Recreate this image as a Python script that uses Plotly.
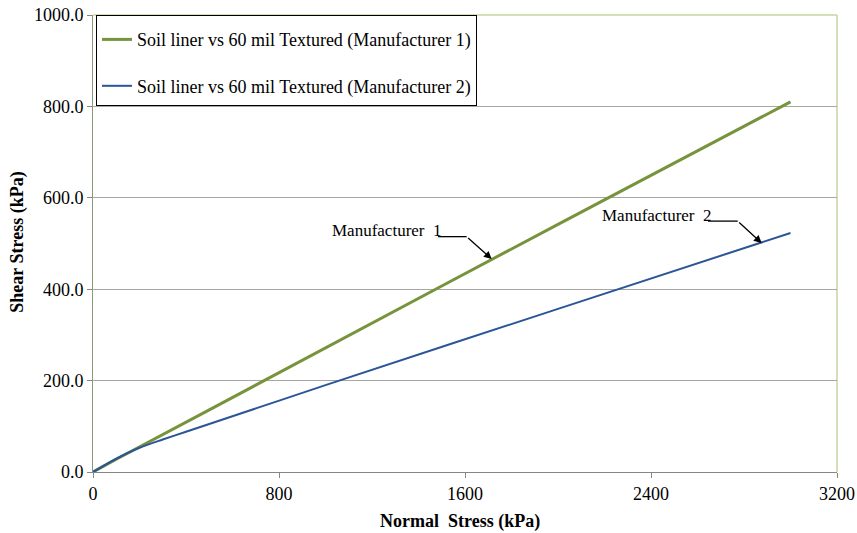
import plotly.graph_objects as go

# Data
m1_sigma = [0, 100, 500, 1000, 1500, 2000, 2500, 3000]
m1_tau = [0, 28, 136, 272, 407, 542, 676, 810]
m2_sigma = [0, 100, 200, 300, 400, 500, 1000, 2000, 3000]
m2_tau = [0, 29, 53, 71, 88, 105, 190, 357, 523]

series_names = ["Soil liner vs 60 mil Textured (Manufacturer 1)",
                "Soil liner vs 60 mil Textured (Manufacturer 2)"]
x_ticks = [0, 800, 1600, 2400, 3200]
y_ticks = [0, 200, 400, 600, 800, 1000]

FONT = "'Liberation Serif', 'Times New Roman', Times, serif"
GREEN = "#77933C"
BLUE = "#2A5597"

fig = go.Figure()
fig.add_trace(go.Scatter(x=m1_sigma, y=m1_tau, mode="lines", name=series_names[0],
                         line=dict(color=GREEN, width=3), legendgroup="a"))
fig.add_trace(go.Scatter(x=m2_sigma, y=m2_tau, mode="lines", name=series_names[1],
                         line=dict(color=BLUE, width=2, shape="spline", smoothing=0.8),
                         legendgroup="b"))

# annotations: text labels with bent leader arrows
ann = []
shapes = []
labels = [
    dict(text="Manufacturer\u00a0\u00a01", tx=1264, ty=528, hx0=1484, hx1=1607, hy=515, tipx=1715, tipy=466),
    dict(text="Manufacturer\u00a0\u00a02", tx=2427, ty=562, hx0=2645, hx1=2773, hy=549, tipx=2876, tipy=501),
]
for L in labels:
    ann.append(dict(x=L["tx"], y=L["ty"], xref="x", yref="y", text=L["text"], showarrow=False,
                    font=dict(family=FONT, size=17, color="black")))
    shapes.append(dict(type="line", xref="x", yref="y", x0=L["hx0"], x1=L["hx1"], y0=L["hy"], y1=L["hy"],
                       line=dict(color="black", width=1.3)))
    ann.append(dict(x=L["tipx"], y=L["tipy"], xref="x", yref="y", ax=L["hx1"], ay=L["hy"],
                    axref="x", ayref="y", text="", showarrow=True, arrowhead=2, arrowsize=1.2,
                    arrowwidth=1.3, arrowcolor="black"))

# axis titles
ann.append(dict(x=0.493, y=-0.109, xref="paper", yref="paper", text="<b>Normal  Stress (kPa)</b>",
                showarrow=False, font=dict(family=FONT, size=18, color="black"), yanchor="middle"))
ann.append(dict(x=-0.102, y=0.502, xref="paper", yref="paper", text="<b>Shear Stress (kPa)</b>",
                showarrow=False, textangle=-90, font=dict(family=FONT, size=18, color="black"),
                xanchor="center", yanchor="middle"))

# plot border (top/right light green)
shapes.append(dict(type="line", xref="paper", yref="paper", x0=0, x1=1, y0=1, y1=1,
                   line=dict(color="#C4D6A0", width=1.5), layer="below"))
shapes.append(dict(type="line", xref="paper", yref="paper", x0=1, x1=1, y0=0, y1=1,
                   line=dict(color="#C4D6A0", width=1.5), layer="below"))

fig.update_layout(
    width=857, height=533,
    margin=dict(l=93, r=20, t=15, b=61, autoexpand=False),
    paper_bgcolor="white", plot_bgcolor="white",
    font=dict(family=FONT, size=18, color="black"),
    showlegend=True,
    legend=dict(x=0.004, y=1, xanchor="left", yanchor="top",
                bgcolor="white", bordercolor="black", borderwidth=1,
                font=dict(family=FONT, size=18, color="black"),
                title=dict(text="\u00a0", font=dict(size=4)),
                tracegroupgap=20, itemwidth=30),
    annotations=ann,
    shapes=shapes,
    xaxis=dict(range=[0, 3200], tickvals=x_ticks, ticktext=[str(v) for v in x_ticks],
               showgrid=False, zeroline=False, showline=True, linecolor="#868686", linewidth=1,
               ticks="outside", ticklen=5, tickcolor="#868686", automargin=False,
               tickfont=dict(family=FONT, size=18, color="black")),
    yaxis=dict(range=[0, 1000], tickvals=y_ticks, ticktext=[f"{v:.1f}" for v in y_ticks],
               showgrid=True, gridcolor="#A6A6A6", gridwidth=1, zeroline=False,
               showline=True, linecolor="#8C9A78", linewidth=1,
               ticks="outside", ticklen=5, tickcolor="#868686", automargin=False,
               tickfont=dict(family=FONT, size=18, color="black")),
)

fig.write_html("out.html")
